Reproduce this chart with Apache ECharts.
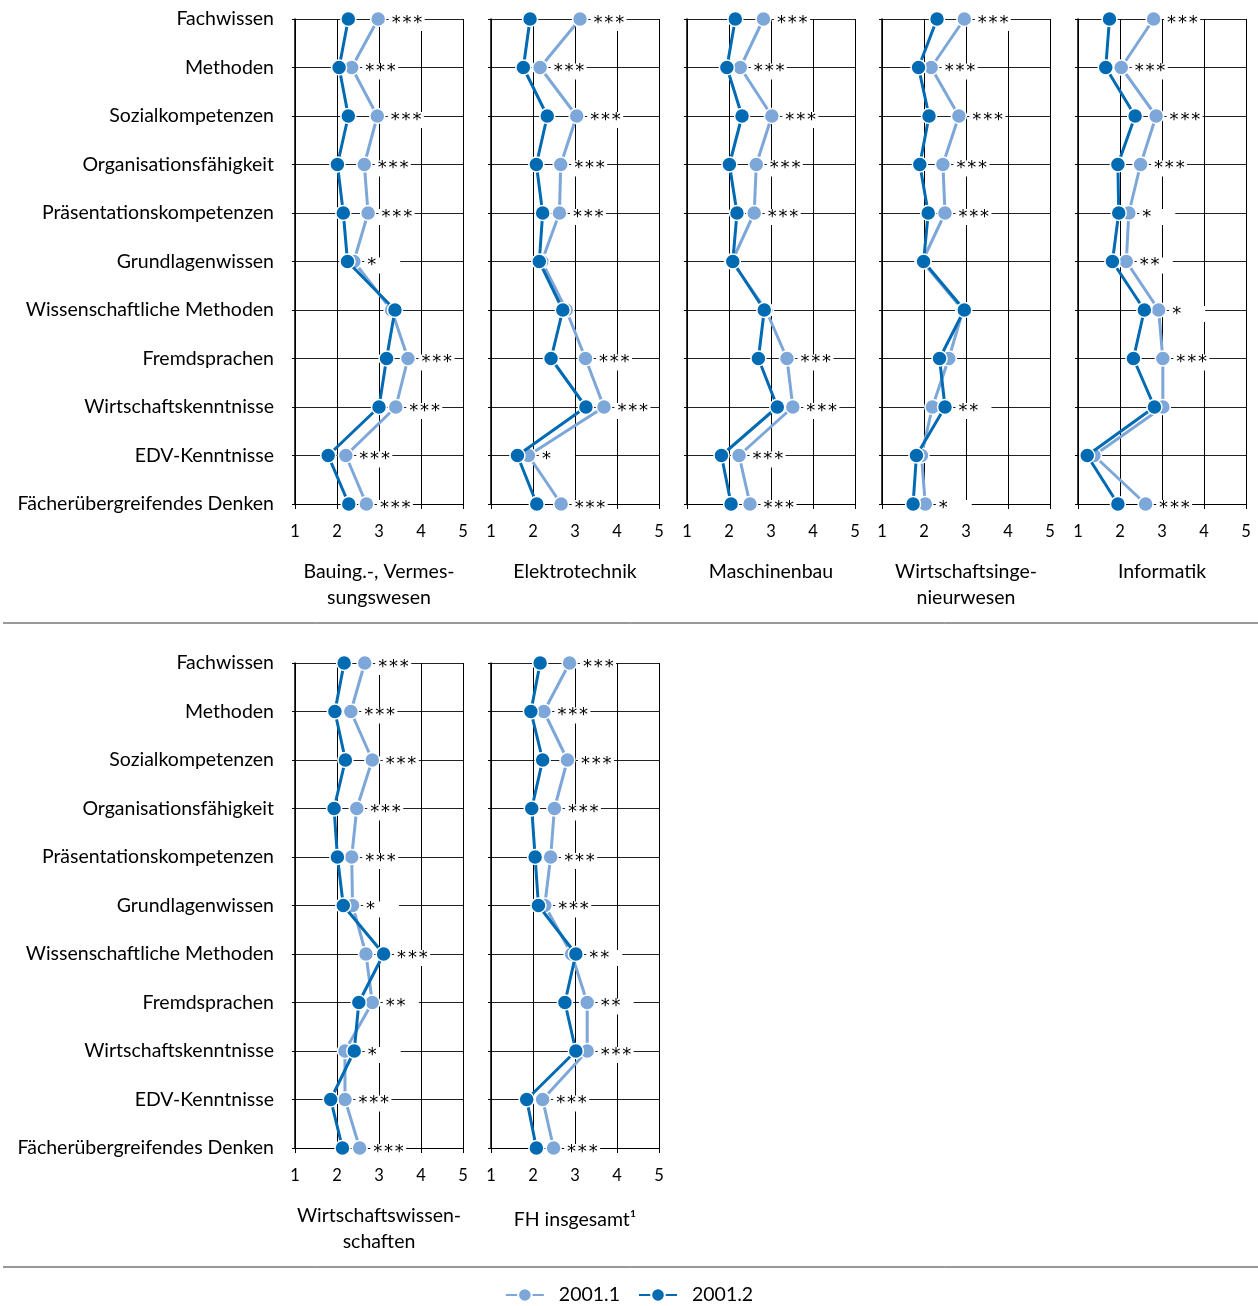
<!DOCTYPE html>
<html><head><meta charset="utf-8">
<script src="https://cdn.jsdelivr.net/npm/echarts@6/dist/echarts.min.js"></script>
<style>html,body{margin:0;padding:0;background:#fff}#c{width:1258px;height:1306px}</style>
</head><body><div id="c"></div>
<script>
const categories = ['Fachwissen','Methoden','Sozialkompetenzen','Organisationsfähigkeit','Präsentationskompetenzen','Grundlagenwissen','Wissenschaftliche Methoden','Fremdsprachen','Wirtschaftskenntnisse','EDV-Kenntnisse','Fächerübergreifendes Denken'];
const xTicks = [1, 2, 3, 4, 5];
const seriesNames = ['2001.1', '2001.2'];
const panelTitles = ['Bauing.-, Vermes-\nsungswesen','Elektrotechnik','Maschinenbau','Wirtschaftsinge-\nnieurwesen','Informatik','Wirtschaftswissen-\nschaften','FH insgesamt\u00b9'];

const bau_2001_1 = [2.98,2.35,2.96,2.65,2.74,2.40,3.30,3.69,3.40,2.21,2.70];
const bau_2001_2 = [2.27,2.05,2.27,2.01,2.15,2.25,3.38,3.18,3.00,1.79,2.28];
const bau_sig    = ['***','***','***','***','***','*','','***','***','***','***'];

const et_2001_1 = [3.12,2.17,3.04,2.66,2.63,2.21,2.79,3.25,3.69,1.89,2.67];
const et_2001_2 = [1.93,1.77,2.34,2.08,2.23,2.15,2.71,2.43,3.26,1.63,2.09];
const et_sig    = ['***','***','***','***','***','','','***','***','*','***'];

const mb_2001_1 = [2.82,2.27,3.02,2.65,2.60,2.07,2.88,3.38,3.52,2.24,2.50];
const mb_2001_2 = [2.15,1.95,2.31,2.01,2.19,2.09,2.84,2.70,3.15,1.82,2.05];
const mb_sig    = ['***','***','***','***','***','','','***','***','***','***'];

const wi_2001_1 = [2.96,2.17,2.83,2.45,2.50,1.96,2.93,2.59,2.20,1.94,2.03];
const wi_2001_2 = [2.31,1.87,2.12,1.90,2.10,1.99,2.96,2.37,2.50,1.82,1.74];
const wi_sig    = ['***','***','***','***','***','','','','**','','*'];

const inf_2001_1 = [2.80,2.03,2.86,2.49,2.21,2.15,2.92,3.02,3.02,1.38,2.61];
const inf_2001_2 = [1.75,1.66,2.36,1.95,1.97,1.82,2.58,2.32,2.82,1.22,1.95];
const inf_sig    = ['***','***','***','***','*','**','*','***','','','***'];

const ww_2001_1 = [2.66,2.33,2.84,2.47,2.35,2.37,2.69,2.84,2.19,2.19,2.54];
const ww_2001_2 = [2.17,1.95,2.20,1.93,2.01,2.15,3.11,2.52,2.41,1.85,2.13];
const ww_sig    = ['***','***','***','***','***','*','***','**','*','***','***'];

const fh_2001_1 = [2.87,2.26,2.82,2.51,2.42,2.28,2.92,3.29,3.29,2.23,2.49];
const fh_2001_2 = [2.17,1.95,2.23,1.97,2.05,2.13,3.02,2.76,3.02,1.85,2.08];
const fh_sig    = ['***','***','***','***','***','***','**','**','***','***','***'];

const panelData = [
  [bau_2001_1, bau_2001_2, bau_sig],
  [et_2001_1, et_2001_2, et_sig],
  [mb_2001_1, mb_2001_2, mb_sig],
  [wi_2001_1, wi_2001_2, wi_sig],
  [inf_2001_1, inf_2001_2, inf_sig],
  [ww_2001_1, ww_2001_2, ww_sig],
  [fh_2001_1, fh_2001_2, fh_sig]
];

const LIGHT = '#7da7d9';
const DARK = '#006ab3';
const FONT = 'Lato';
const colLefts = [295, 491, 687, 882, 1078];
const rowTops = [19, 663];
const GW = 168, GH = 485;

const grid = [], xAxis = [], yAxis = [], series = [], title = [];
panelData.forEach((pd, i) => {
  const row = i < 5 ? 0 : 1;
  const col = i < 5 ? i : i - 5;
  const left = colLefts[col], top = rowTops[row];
  grid.push({ left: left, top: top, width: GW, height: GH, containLabel: false });
  xAxis.push({
    gridIndex: i, type: 'value', min: xTicks[0], max: xTicks[xTicks.length - 1], interval: 1,
    axisLine: { show: true, onZero: false, lineStyle: { color: '#000', width: 1 } },
    axisTick: { show: true, length: 5, lineStyle: { color: '#000' } },
    axisLabel: { fontFamily: FONT, fontSize: 16.5, color: '#000', margin: 19 },
    splitLine: { show: true, lineStyle: { color: '#000', width: 1 } }
  });
  yAxis.push({
    gridIndex: i, type: 'category', data: categories, inverse: true, boundaryGap: false,
    axisLine: { show: true, lineStyle: { color: '#000', width: 1.5 } },
    axisTick: { show: true, length: 3, lineStyle: { color: '#000' } },
    axisLabel: { show: col === 0, fontFamily: FONT, fontSize: 19.5, color: '#000', margin: 21 },
    splitLine: { show: true, lineStyle: { color: '#222', width: 1 } }
  });
  title.push({
    text: panelTitles[i], left: left + GW / 2, top: row === 0 ? 559 : (i === 6 ? 1207 : 1203), textAlign: 'center', padding: 0,
    textStyle: { fontFamily: FONT, fontSize: 19.5, fontWeight: 'normal', color: '#000', lineHeight: 26 }
  });
  const mk = (arr) => arr.map((v, k) => [v, categories[k]]);
  series.push({
    name: seriesNames[0], type: 'line', xAxisIndex: i, yAxisIndex: i, data: mk(pd[0]),
    symbol: 'circle', symbolSize: 15, z: 3,
    lineStyle: { color: LIGHT, width: 3 },
    itemStyle: { color: LIGHT, borderColor: '#fff', borderWidth: 1.5 }
  });
  series.push({
    name: seriesNames[1], type: 'line', xAxisIndex: i, yAxisIndex: i, data: mk(pd[1]),
    symbol: 'circle', symbolSize: 15, z: 4,
    lineStyle: { color: DARK, width: 3 },
    itemStyle: { color: DARK, borderColor: '#fff', borderWidth: 1.5 }
  });
  series.push({
    type: 'scatter', xAxisIndex: i, yAxisIndex: i, silent: true, z: 2,
    symbolSize: 1, itemStyle: { color: '#fff', opacity: 1 },
    data: pd[2].map((s, k) => ({
      value: [Math.max(pd[0][k], pd[1][k]), categories[k]],
      label: { show: s !== '', formatter: s.split('').join('\u200a') }
    })),
    label: {
      position: 'right', distance: 10, offset: [0, 4], fontFamily: 'DejaVu Sans', fontSize: 18, color: '#000',
      opacity: 1, backgroundColor: '#ffffff', padding: [0, 3, 0, 3], width: 30, height: 16, lineHeight: 16, align: 'left'
    }
  });
});

const chart = echarts.init(document.getElementById('c'));
chart.setOption({
  backgroundColor: '#fff',
  animation: false,
  title: title,
  grid: grid, xAxis: xAxis, yAxis: yAxis, series: series,
  legend: {
    data: seriesNames, top: 1280, left: 'center', itemWidth: 38, itemHeight: 17, itemGap: 18,
    textStyle: { fontFamily: FONT, fontSize: 19.5, color: '#000', padding: [0, 0, 0, 10] }
  },
  graphic: [
    { type: 'line', shape: { x1: 3, y1: 623, x2: 1258, y2: 623 }, style: { stroke: '#333', lineWidth: 1 } },
    { type: 'line', shape: { x1: 3, y1: 1267, x2: 1258, y2: 1267 }, style: { stroke: '#333', lineWidth: 1 } }
  ]
});
</script></body></html>
